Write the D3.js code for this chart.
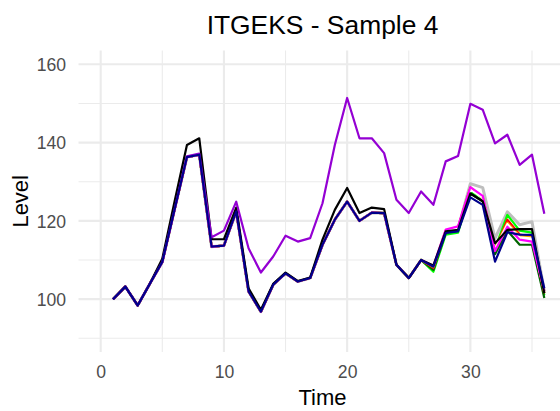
<!DOCTYPE html>
<html>
<head>
<meta charset="utf-8">
<script src="https://cdn.jsdelivr.net/npm/d3@7"></script>
<style>
  html, body { margin: 0; padding: 0; background: #ffffff; }
  svg { display: block; font-family: "Liberation Sans", Arial, sans-serif; }
</style>
</head>
<body>
<svg id="chart" width="560" height="411"></svg>
<script>
// Time periods 1..36
const time = d3.range(1, 37);

// Shared path for periods 1..26 (all window-based series agree here)
const common = [100, 103.2, 98.4, 104.0, 109.5, 123.0, 136.3, 136.9, 113.4, 113.7,
  122.4, 102.0, 96.8, 103.7, 106.6, 104.5, 105.4, 113.9, 120.3, 124.9,
  120.0, 122.1, 122.0, 108.8, 105.4, 110.0];

const blueTail      = [108.3, 116.9, 117.3, 126.0, 124.1, 109.6, 117.1, 116.5, 116.4, 102.8];
const grayTail      = [108.3, 117.3, 118.0, 129.5, 128.5, 115.5, 122.3, 119.0, 119.8, 102.0];
const greenTail     = [107.0, 116.5, 117.0, 127.5, 125.0, 113.0, 121.5, 117.5, 117.0, 101.0];
const darkgreenTail = [107.5, 117.0, 117.5, 127.0, 125.0, 111.5, 117.5, 113.9, 113.9, 100.3];
const redTail       = [108.0, 117.5, 118.3, 128.5, 126.0, 112.6, 120.3, 116.5, 116.0, 101.5];
const orangeTail    = [108.2, 117.6, 118.3, 128.2, 126.0, 113.0, 119.5, 116.2, 116.0, 101.8];
const whiteTail     = [108.4, 117.5, 118.2, 128.0, 126.0, 112.8, 119.2, 115.8, 115.5, 101.8];
const magentaTail   = [108.5, 117.8, 118.6, 128.6, 126.4, 112.3, 118.5, 115.2, 114.7, 102.0];

const blackValues = [100, 103.2, 98.4, 104.0, 110.3, 125.0, 139.4, 141.1, 115.3, 115.3,
  123.4, 102.8, 97.3, 103.9, 106.8, 104.6, 105.5, 115.2, 122.8, 128.4,
  122.0, 123.4, 123.0, 108.8, 105.4, 110.0, 108.6, 117.3, 117.7, 127.0,
  125.0, 114.3, 117.7, 117.9, 117.9, 101.5];

const purpleValues = [100, 103.2, 98.4, 104.0, 109.5, 123.0, 136.5, 137.2, 115.8, 117.5,
  124.9, 113.0, 106.8, 110.9, 116.2, 114.7, 115.6, 124.5, 139.4, 151.4,
  141.1, 141.1, 137.3, 125.4, 122.0, 127.5, 124.1, 135.2, 136.6, 149.9,
  148.4, 139.8, 142.0, 134.3, 136.9, 121.8];

const xTicks = [0, 10, 20, 30];
const xMinor = [5, 15, 25, 35];
const yTicks = [100, 120, 140, 160];
const yMinor = [90, 110, 130, 150];

// Series in drawing order (last drawn on top)
const series = [
  { color: "#BEBEBE", width: 3.0, values: common.concat(grayTail) },
  { color: "#00FF00", width: 2.2, values: common.concat(greenTail) },
  { color: "#006400", width: 2.2, values: common.concat(darkgreenTail) },
  { color: "#FF0000", width: 2.2, values: common.concat(redTail) },
  { color: "#FFA500", width: 2.2, values: common.concat(orangeTail) },
  { color: "#FFFFFF", width: 2.0, values: common.concat(whiteTail) },
  { color: "#FF00FF", width: 2.2, values: common.concat(magentaTail) },
  { color: "#000000", width: 2.2, values: blackValues },
  { color: "#9400D3", width: 2.2, values: purpleValues },
  { color: "#00008B", width: 2.2, values: common.concat(blueTail) }
];

const svg = d3.select("#chart");

const x = d3.scaleLinear().domain([-1.8, 37.8]).range([78.5, 566.5]);
const y = d3.scaleLinear().domain([86.5, 163.5]).range([352, 50.6]);

const panel = svg.append("g");
const [x0, x1] = x.range();
const [yb, yt] = y.range();

// minor grid
panel.selectAll(".vminor").data(xMinor).join("line")
  .attr("x1", d => x(d)).attr("x2", d => x(d)).attr("y1", yb).attr("y2", yt)
  .attr("stroke", "#EBEBEB").attr("stroke-width", 1.1);
panel.selectAll(".hminor").data(yMinor).join("line")
  .attr("x1", x0).attr("x2", x1).attr("y1", d => y(d)).attr("y2", d => y(d))
  .attr("stroke", "#EBEBEB").attr("stroke-width", 1.1);
// major grid
panel.selectAll(".vmajor").data(xTicks).join("line")
  .attr("x1", d => x(d)).attr("x2", d => x(d)).attr("y1", yb).attr("y2", yt)
  .attr("stroke", "#EBEBEB").attr("stroke-width", 2.1);
panel.selectAll(".hmajor").data(yTicks).join("line")
  .attr("x1", x0).attr("x2", x1).attr("y1", d => y(d)).attr("y2", d => y(d))
  .attr("stroke", "#EBEBEB").attr("stroke-width", 2.1);

// series lines
const line = d3.line().x((d, i) => x(time[i])).y(d => y(d));
svg.append("g").selectAll("path").data(series).join("path")
  .attr("d", d => line(d.values))
  .attr("fill", "none")
  .attr("stroke", d => d.color)
  .attr("stroke-width", d => d.width)
  .attr("stroke-linejoin", "round")
  .attr("stroke-linecap", "butt");

// axes (labels only, ggplot minimal style)
const xAxis = d3.axisBottom(x).tickValues(xTicks).tickSize(0).tickPadding(0);
const gx = svg.append("g").attr("transform", `translate(0, 365)`).call(xAxis);
gx.select(".domain").remove();
gx.selectAll("text").attr("font-size", "17.6px").attr("fill", "#4D4D4D")
  .attr("font-family", "Liberation Sans, Arial, sans-serif").attr("dy", "0.71em");

const yAxis = d3.axisLeft(y).tickValues(yTicks).tickSize(0).tickPadding(0);
const gy = svg.append("g").attr("transform", `translate(66, 0)`).call(yAxis);
gy.select(".domain").remove();
gy.selectAll("text").attr("font-size", "17.6px").attr("fill", "#4D4D4D")
  .attr("font-family", "Liberation Sans, Arial, sans-serif").attr("dy", "0.36em");

// titles
svg.append("text").attr("x", (x0 + x1) / 2).attr("y", 34.3)
  .attr("text-anchor", "middle").attr("font-size", "26.4px").attr("fill", "#000")
  .text("ITGEKS - Sample 4");
svg.append("text").attr("x", (x0 + x1) / 2).attr("y", 405)
  .attr("text-anchor", "middle").attr("font-size", "22px").attr("fill", "#000")
  .text("Time");
svg.append("text").attr("transform", `translate(28.3, ${(yb + yt) / 2}) rotate(-90)`)
  .attr("text-anchor", "middle").attr("font-size", "22px").attr("fill", "#000")
  .text("Level");
</script>
</body>
</html>
